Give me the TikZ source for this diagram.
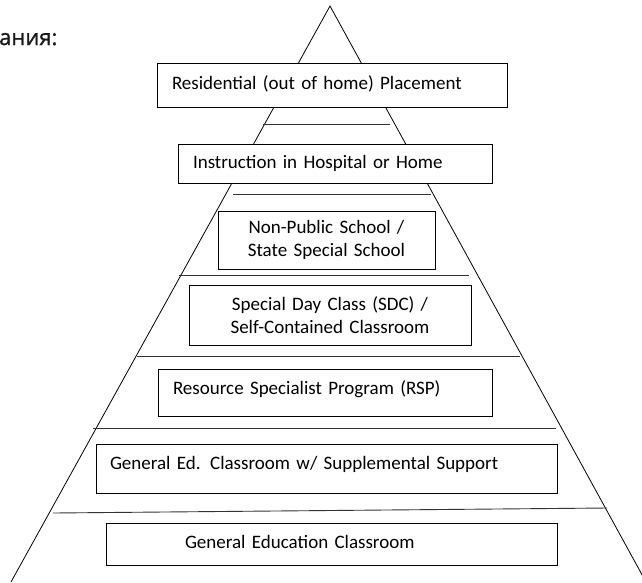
\documentclass[tikz,border=0pt]{standalone}
\usepackage{fontspec}
\newfontfamily\tierfont{Carlito}
\newfontfamily\capfont[FakeBold=1.2]{Open Sans}
\usetikzlibrary{positioning}
\tikzset{
  tier/.style={draw, fill=white, line width=0.8pt, inner xsep=15pt, inner ysep=0pt, align=left,
    font=\tierfont\fontsize{19}{23}\selectfont},
  oneline/.style={text height=14pt, text depth=#1},
  oneline/.default=4.5pt,
  rung/.style={line width=0.9pt, color=black!80}
}
\begin{document}
\begin{tikzpicture}[x=1pt, y=-1pt]
\useasboundingbox (0,0) rectangle (642,582);
\draw[line width=0.8pt] (11,582) -- (330,6) -- (646,582);
\draw[rung] (263,124) -- (390,124);
\draw[rung] (233,194) -- (431,194);
\draw[rung] (179,275) -- (469,275);
\draw[rung] (137,356) -- (520,356);
\draw[rung] (93,428) -- (556,428);
\draw[rung] (53,513) -- (607,508);
\node[tier, oneline, text width=320pt, minimum height=44pt, at={(332,85)}] (res) {Residential (out of home) Placement};
\node[tier, oneline, text width=284pt, minimum height=39pt, at={(335,163.5)}] (hosp) {Instruction in Hospital or Home};
\node[tier, align=center, text width=187pt, minimum height=58pt, at={(326.5,240)}] (nps) {Non-Public School /\\State Special School};
\node[tier, align=center, line width=1pt, text width=252pt, minimum height=60pt, at={(330,315)}] (sdc) {Special Day Class (SDC) /\\Self-Contained Classroom};
\node[tier, oneline=11pt, text width=304pt, minimum height=47pt, at={(325,392.5)}] (rsp) {Resource Specialist Program (RSP)};
\node[tier, oneline=13pt, inner xsep=14pt, text width=433pt, minimum height=49pt, at={(326.5,468.5)}] (supp) {General Ed. Classroom w/ Supplemental Support};
\node[tier, oneline, inner xsep=79pt, text width=293pt, minimum height=42pt, at={(331.5,544)}] (gened) {General Education Classroom};
\node[anchor=base west, inner sep=0pt, text=black!90, font=\capfont\fontsize{22}{26}\selectfont, at={(-1,45)}] (caption) {ания:};
\end{tikzpicture}
\end{document}
